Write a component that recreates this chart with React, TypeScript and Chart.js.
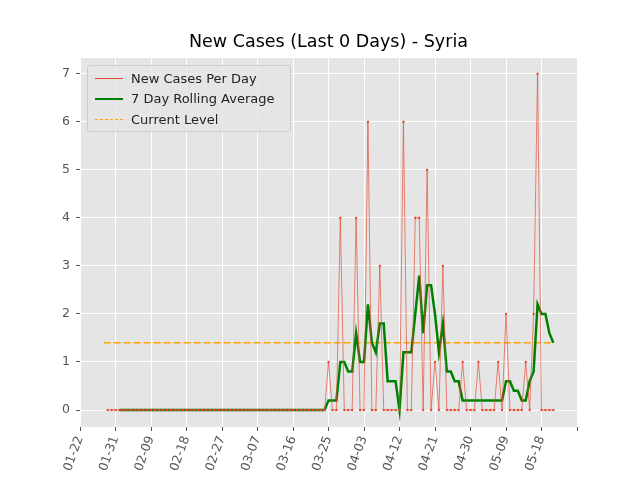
import { useEffect, useRef } from "react";
import { Chart, registerables } from "chart.js";

Chart.register(...registerables);

// days counted from 2020-01-22
const caseStartDay = 7;
const newCases = [
  0, 0, 0, 0, 0, 0, 0, 0, 0, 0, 0, 0, 0, 0, 0, 0, 0, 0, 0, 0, 0, 0, 0, 0, 0, 0, 0, 0,
  0, 0, 0, 0, 0, 0, 0, 0, 0, 0, 0, 0, 0, 0, 0, 0, 0, 0, 0, 0, 0, 0, 0, 0, 0, 0, 0, 0,
  1, 0, 0, 4, 0, 0, 0, 4, 0, 0, 6, 0, 0, 3, 0, 0, 0, 0, 0, 6, 0, 0, 4, 4, 0, 5, 0, 1,
  0, 3, 0, 0, 0, 0, 1, 0, 0, 0, 1, 0, 0, 0, 0, 1, 0, 2, 0, 0, 0, 0, 1, 0, 2, 7, 0, 0,
  0, 0,
];
const rollStartDay = 10;
const rollingAvg = [
  0, 0, 0, 0, 0, 0, 0, 0, 0, 0, 0, 0, 0, 0, 0, 0, 0, 0, 0, 0, 0, 0, 0, 0, 0, 0, 0,
  0, 0, 0, 0, 0, 0, 0, 0, 0, 0, 0, 0, 0, 0, 0, 0, 0, 0, 0, 0, 0, 0, 0, 0, 0, 0,
  0.2, 0.2, 0.2, 1, 1, 0.8, 0.8, 1.6, 1, 1, 2.2, 1.4, 1.2, 1.8, 1.8, 0.6, 0.6, 0.6, 0,
  1.2, 1.2, 1.2, 2, 2.8, 1.6, 2.6, 2.6, 2, 1.2, 1.8, 0.8, 0.8, 0.6, 0.6,
  0.2, 0.2, 0.2, 0.2, 0.2, 0.2, 0.2, 0.2, 0.2, 0.2, 0.2, 0.6, 0.6, 0.4, 0.4, 0.2, 0.2,
  0.6, 0.8, 2.2, 2, 2, 1.6, 1.4,
];
const currentLevel = 1.4;
const levelDays = [6, 120];
const xTicks = [0, 9, 18, 27, 36, 45, 54, 63, 72, 81, 90, 99, 108, 117, 126];
const yTicks = [0, 1, 2, 3, 4, 5, 6, 7];

const fmtDay = (d: number) => {
  const dt = new Date(Date.UTC(2020, 0, 22 + d));
  return `${String(dt.getUTCMonth() + 1).padStart(2, "0")}-${String(dt.getUTCDate()).padStart(2, "0")}`;
};

const bgPlugin = {
  id: "plotBg",
  beforeDraw(chart: any) {
    const { ctx, chartArea: a } = chart;
    ctx.save();
    ctx.fillStyle = "#e5e5e5";
    ctx.fillRect(a.left, a.top, a.right - a.left, a.bottom - a.top);
    ctx.restore();
  },
};

const legendItems = [
  { label: "New Cases Per Day", color: "#E24A33", width: 1, dash: false },
  { label: "7 Day Rolling Average", color: "#008000", width: 2.5, dash: false },
  { label: "Current Level", color: "#FFA500", width: 1.5, dash: true },
];

export default function App() {
  const canvasRef = useRef<HTMLCanvasElement>(null);

  useEffect(() => {
    document.body.style.margin = "0";
    if (!canvasRef.current) return;
    const font = "'DejaVu Sans', sans-serif";
    const chart = new Chart(canvasRef.current, {
      type: "line",
      data: {
        datasets: [
          {
            label: "New Cases Per Day",
            data: newCases.map((v, i) => ({ x: caseStartDay + i, y: v })),
            borderColor: "rgba(226,74,51,0.75)",
            borderWidth: 0.9,
            pointRadius: 1.5,
            pointStyle: "rect",
            pointBackgroundColor: "#E24A33",
            pointBorderColor: "#E24A33",
            pointBorderWidth: 0,
          },
          {
            label: "7 Day Rolling Average",
            data: rollingAvg.map((v, i) => ({ x: rollStartDay + i, y: v })),
            borderColor: "#008000",
            borderWidth: 2.5,
            pointRadius: 0,
          },
          {
            label: "Current Level",
            data: levelDays.map((d) => ({ x: d, y: currentLevel })),
            borderColor: "#FFA500",
            borderWidth: 1.5,
            borderDash: [7, 3],
            pointRadius: 0,
          },
        ],
      },
      options: {
        animation: false,
        responsive: false,
        layout: { padding: { right: 63, top: 58 } },
        plugins: {
          legend: { display: false },
          tooltip: { enabled: false },
          title: { display: false },
        },
        scales: {
          x: {
            type: "linear",
            min: 0,
            max: 126,
            afterBuildTicks: (s: any) => {
              s.ticks = xTicks.map((v) => ({ value: v }));
            },
            afterFit: (s: any) => {
              s.height = 53;
            },
            ticks: {
              autoSkip: false,
              minRotation: 70,
              maxRotation: 70,
              color: "#555",
              font: { family: font, size: 12.5 },
              callback: (v: any) => (v === 126 ? "" : fmtDay(Number(v))),
            },
            grid: { color: "#fff", lineWidth: 1, tickColor: "#555", tickLength: 4 },
            border: { display: false },
          },
          y: {
            min: -0.354,
            max: 7.33,
            afterBuildTicks: (s: any) => {
              s.ticks = yTicks.map((v) => ({ value: v }));
            },
            afterFit: (s: any) => {
              s.width = 80;
            },
            ticks: { color: "#555", font: { family: font, size: 12.5 }, padding: 6 },
            grid: { color: "#fff", lineWidth: 1, tickColor: "#555", tickLength: 4 },
            border: { display: false },
          },
        },
      },
      plugins: [bgPlugin],
    } as any);
    return () => chart.destroy();
  }, []);

  return (
    <div style={{ position: "relative", width: 640, height: 480, background: "#fff" }}>
      <canvas ref={canvasRef} width={640} height={480} style={{ width: 640, height: 480 }} />
      <div
        style={{
          position: "absolute",
          left: 80,
          width: 497,
          top: 31,
          textAlign: "center",
          fontFamily: "'DejaVu Sans', sans-serif",
          fontSize: 17.5,
          color: "#000",
        }}
      >
        New Cases (Last 0 Days) - Syria
      </div>
      <div
        style={{
          position: "absolute",
          left: 87,
          top: 65,
          width: 204,
          height: 67,
          background: "rgba(229,229,229,0.8)",
          border: "1px solid #ccc",
          borderRadius: 3,
          boxSizing: "border-box",
          fontFamily: "'DejaVu Sans', sans-serif",
          fontSize: 13,
          color: "#222",
          padding: "2px 0 0 7px",
        }}
      >
        {legendItems.map((it) => (
          <div key={it.label} style={{ display: "flex", alignItems: "center", height: 20.5 }}>
            <div
              style={{
                width: 28,
                marginRight: 8,
                borderTop: `${it.width}px ${it.dash ? "dashed" : "solid"} ${it.color}`,
              }}
            />
            <span>{it.label}</span>
          </div>
        ))}
      </div>
    </div>
  );
}
